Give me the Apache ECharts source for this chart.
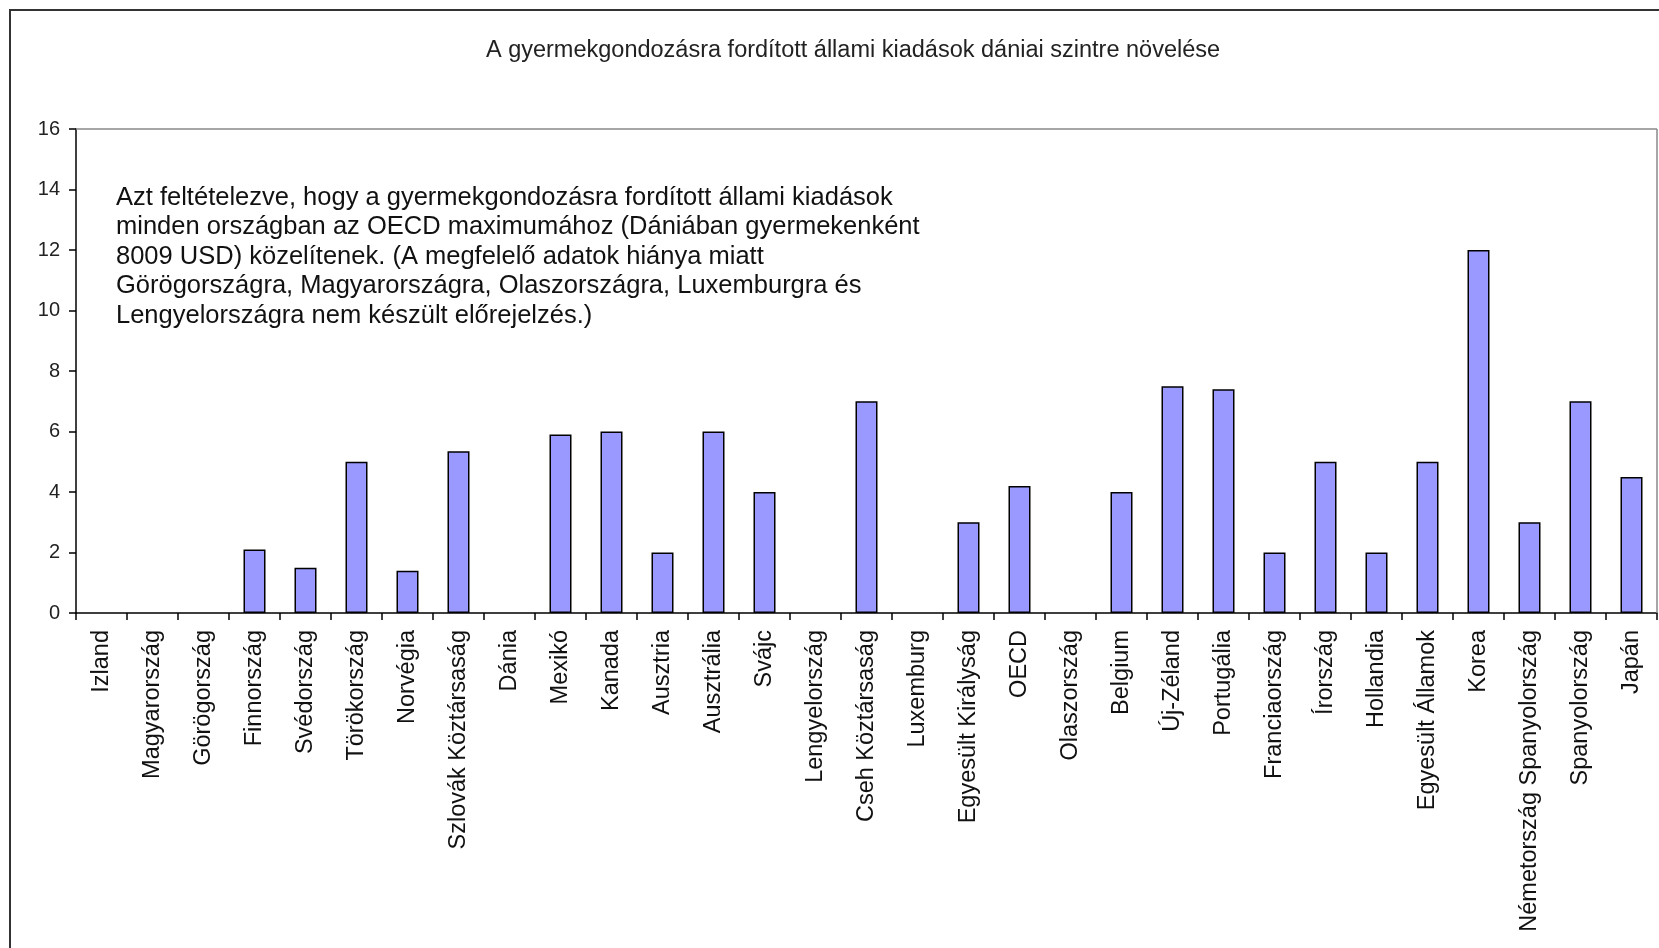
<!DOCTYPE html>
<html>
<head>
<meta charset="utf-8">
<script src="https://cdn.jsdelivr.net/npm/echarts@6/dist/echarts.min.js"></script>
<style>
html,body{margin:0;padding:0;background:#fff;}
#chart{width:1659px;height:948px;}
</style>
</head>
<body>
<div id="chart"></div>
<script>
const categories = ["Izland","Magyarország","Görögország","Finnország","Svédország","Törökország","Norvégia","Szlovák Köztársaság","Dánia","Mexikó","Kanada","Ausztria","Ausztrália","Svájc","Lengyelország","Cseh Köztársaság","Luxemburg","Egyesült Királyság","OECD","Olaszország","Belgium","Új-Zéland","Portugália","Franciaország","Írország","Hollandia","Egyesült Államok","Korea","Németország Spanyolország","Spanyolország","Japán"];
const values = [0,0,0,2.1,1.5,5.0,1.4,5.35,0,5.9,6.0,2.0,6.0,4.0,0,7.0,0,3.0,4.2,0,4.0,7.5,7.4,2.0,5.0,2.0,5.0,12.0,3.0,7.0,4.5];
const yTicks = [0,2,4,6,8,10,12,14,16];
const titleText = "A gyermekgondozásra fordított állami kiadások dániai szintre növelése";
const noteLines = [
 "Azt feltételezve, hogy a gyermekgondozásra fordított állami kiadások",
 "minden országban az OECD maximumához (Dániában gyermekenként",
 "8009 USD) közelítenek. (A megfelelő adatok hiánya miatt",
 "Görögországra, Magyarországra, Olaszországra, Luxemburgra és",
 "Lengyelországra nem készült előrejelzés.)"
];

const chart = echarts.init(document.getElementById('chart'), null, {renderer:'canvas'});
const FONT = "'Liberation Sans', Arial, sans-serif";
chart.setOption({
  animation:false,
  backgroundColor:'#fff',
  title:{
    text:titleText, left:848, top:34, textAlign:'center',
    textStyle:{fontFamily:FONT, fontSize:23.5, fontWeight:'normal', color:'#222'}
  },
  graphic:[
    {type:'rect', shape:{x:10, y:10, width:1700, height:1000}, style:{fill:'none', stroke:'#333', lineWidth:2}, silent:true},
    {type:'line', shape:{x1:76, y1:129, x2:1657, y2:129}, style:{stroke:'#888', lineWidth:1.5}, z:10},
    {type:'line', shape:{x1:1657, y1:129, x2:1657, y2:613}, style:{stroke:'#888', lineWidth:1.5}, z:10},
    {type:'text', left:116, top:183, z:20,
     style:{text:noteLines.join('\n'), fontFamily:FONT, fontSize:25.5, lineHeight:29.5, fill:'#111'}}
  ],
  grid:{left:76, right:2, top:129, bottom:335, containLabel:false},
  xAxis:{
    type:'category', data:categories, boundaryGap:true,
    axisLine:{show:true, lineStyle:{color:'#000', width:1.5}},
    axisTick:{show:true, alignWithLabel:false, length:7, lineStyle:{color:'#000', width:1.5}},
    axisLabel:{rotate:90, interval:0, margin:17, fontFamily:FONT, fontSize:23.5, color:'#111'},
    splitLine:{show:false}
  },
  yAxis:{
    type:'value', min:yTicks[0], max:yTicks[yTicks.length-1], interval:2,
    axisLine:{show:true, lineStyle:{color:'#000', width:1.5}},
    axisTick:{show:true, length:7, lineStyle:{color:'#000', width:1.5}},
    axisLabel:{margin:16, fontFamily:FONT, fontSize:20, color:'#222'},
    splitLine:{show:false}
  },
  series:[{
    type:'bar', data:values.map(v => v === 0 ? '-' : v), barWidth:22,
    itemStyle:{color:'#9999FF', borderColor:'#000', borderWidth:1.5}
  }]
});
</script>
</body>
</html>
